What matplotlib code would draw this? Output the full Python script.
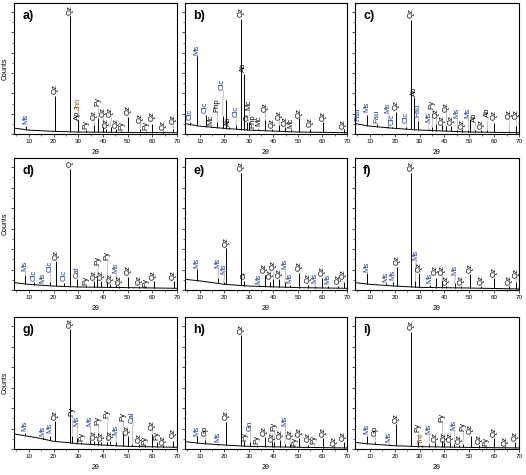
import numpy as np
import matplotlib
matplotlib.use("Agg")
import matplotlib.pyplot as plt
from matplotlib.ticker import MultipleLocator, NullFormatter

plt.rcParams['font.family'] = ['Liberation Sans', 'DejaVu Sans']

# ---------------- data (2theta in degrees, intensity in % of full scale) ----------------
a_pos = [8.8, 20.8, 26.6, 29.9, 29.9, 33.3, 36.4, 38.1, 40.0, 41.1, 43.1, 45.2, 47.5, 50.1, 55.0, 57.3, 60.0, 64.3, 68.4]
a_height = [6, 29, 90, 10.5, 10.5, 3, 7, 12, 5.5, 4, 5, 3.5, 2.5, 13, 4, 2.5, 8, 2.5, 4]
a_label = ['Ms', 'Qz', 'Qz', 'Ap', 'Jhn', 'Py', 'Qz', 'Py', 'Qz', 'Qz', 'Qz', 'Qz', 'Py', 'Qz', 'Qz', 'Py', 'Qz', 'Qz', 'Qz']
a_bg_x = [4, 10, 20, 30, 50, 70]
a_bg_y = [4.5, 3.0, 2.0, 1.5, 1.2, 1.0]

b_pos = [6.2, 8.8, 12.4, 14.4, 17.1, 19.3, 20.8, 21.8, 24.9, 26.7, 27.9, 29.2, 30.0, 31.5, 33.9, 36.6, 39.6, 42.3, 44.7, 47.1, 50.3, 55.1, 60.2, 68.6]
b_height = [9, 59.5, 14.5, 6, 9, 14, 26, 5, 7, 87.5, 46, 9, 9, 4, 4, 10.5, 4, 7, 5, 4, 12, 4, 9.5, 3.5]
b_label = ['Clc', 'Ms', 'Clc', 'Mc', 'Php', 'Clc', '', 'Ab', 'Clc', 'Qz', 'Ab', 'Or', 'Mc', 'Php', 'Mc', 'Qz', 'Qz', 'Qz', 'Qz', 'Mc', 'Qz', 'Qz', 'Qz', 'Qz']
b_bg_x = [4, 5, 10, 20, 30, 50, 70]
b_bg_y = [8.0, 7.6, 6.0, 4.3, 3.0, 1.5, 1.0]

c_pos = [5.3, 8.9, 12.7, 17.4, 18.8, 20.6, 24.7, 26.6, 27.8, 29.3, 33.6, 35.0, 36.6, 39.0, 40.6, 42.7, 45.1, 47.0, 49.5, 50.1, 52.2, 54.9, 57.3, 60.0, 66.1, 68.8]
c_height = [8, 14.5, 8, 6, 5, 17, 5, 87, 28, 10, 4, 5, 8, 6.5, 6, 6, 3, 4, 3, 11, 3, 3, 3, 8.5, 2.5, 6]
c_label = ['Fau', 'Ms', 'Fau', 'Ms', 'Clc', 'Qz', 'Clc', 'Qz', 'Ab', 'Fau', 'Ms', 'Py', 'Qz', 'Qz', 'Qz', 'Qz', 'Ms', 'Qz', 'Ms', '', 'Ab', 'Qz', 'Ab', 'Qz', 'Qz', 'Qz']
c_bg_x = [4, 5, 10, 20, 30, 50, 70]
c_bg_y = [8.0, 7.6, 6.0, 4.3, 3.0, 1.5, 1.0]

d_pos = [8.6, 12.0, 15.8, 18.6, 20.9, 24.2, 26.6, 29.5, 33.3, 36.5, 37.8, 39.4, 41.8, 42.8, 45.3, 46.6, 50.3, 54.6, 57.2, 60.5, 68.6]
d_height = [11.4, 6, 4, 6, 22, 5, 92, 8, 3, 7, 8, 7, 6, 4.5, 4, 3, 10, 3, 2, 7, 7]
d_label = ['Ms', 'Clc', 'Ms', 'Clc', 'Qz', 'Clc', 'Q', 'Cal', 'Py', 'Qz', 'Py', 'Qz', 'Py', 'Qz', 'Ms', 'Qz', 'Qz', 'Qz', 'Py', 'Qz', 'Qz']
d_bg_x = [4, 10, 20, 30, 50, 70]
d_bg_y = [5.6, 4.3, 3.0, 2.3, 1.8, 1.3]

e_pos = [8.8, 17.5, 19.8, 20.8, 26.8, 28.2, 34.0, 36.4, 38.6, 40.0, 42.3, 44.7, 46.7, 50.4, 54.1, 56.8, 59.9, 62.2, 66.2, 68.6]
e_height = [15.7, 9.4, 6, 31.5, 89, 7, 4, 11.4, 6, 8, 8, 6, 4, 13.2, 4, 3, 9, 3, 3, 6]
e_label = ['Ms', 'Ms', 'Ms', 'Qz', 'Qz', 'Or', 'Ms', 'Qz', 'Qz', 'Qz', 'Qz', 'Ms', 'Ms', 'Qz', 'Qz', 'Ms', 'Qz', 'Ms', 'Qz', 'Qz']
e_bg_x = [4, 10, 20, 30, 50, 70]
e_bg_y = [8.1, 6.9, 4.3, 3.0, 1.8, 1.3]

f_pos = [8.8, 16.5, 19.2, 20.8, 26.6, 28.3, 29.7, 34.0, 36.4, 39.1, 40.7, 44.1, 46.8, 50.4, 54.9, 60.0, 66.1, 68.8]
f_height = [13, 5, 6, 17.8, 89, 7, 13, 4, 9, 7, 3, 5, 3, 12, 3, 9, 3, 6]
f_label = ['Ms', 'Ms', 'Ms', 'Qz', 'Qz', 'Ms', 'Qz', 'Ms', 'Qz', 'Qz', 'Qz', 'Ms', 'Qz', 'Qz', 'Qz', 'Qz', 'Qz', 'Qz']
f_bg_x = [4, 10, 20, 30, 50, 70]
f_bg_y = [5.6, 4.3, 3.0, 2.0, 1.5, 0.8]

g_pos = [8.6, 15.7, 18.4, 20.5, 26.6, 27.5, 29.5, 31.3, 34.7, 36.5, 38.1, 39.4, 41.8, 42.8, 45.3, 48.0, 50.0, 51.9, 54.8, 57.1, 59.8, 61.8, 64.5, 68.4]
g_height = [12.5, 9, 10, 21, 91, 10, 8, 5, 7, 6, 6, 5.5, 5, 6, 5, 11, 9.6, 4, 4, 3, 11, 5, 3, 6]
g_label = ['Ms', 'Ms', 'Ms', 'Qz', 'Qz', 'Py', 'Ms', 'Py', 'Ms', 'Qz', 'Py', 'Qz', 'Py', 'Qz', 'Ms', 'Py', 'Qz', 'Cal', 'Qz', 'Py', 'Qz', 'Py', 'Qz', 'Qz']
g_bg_x = [4, 10, 15, 20, 25, 30, 50, 70]
g_bg_y = [11.4, 9.6, 7.9, 5.8, 5.0, 4.0, 2.0, 1.3]

h_pos = [8.8, 12.2, 17.5, 20.8, 26.8, 28.2, 30.6, 33.3, 36.4, 39.3, 40.3, 42.7, 44.7, 46.7, 48.6, 50.4, 54.1, 56.5, 60.2, 64.6, 68.6]
h_height = [9.5, 7, 4, 20.3, 86, 6, 5, 3, 9, 5, 5, 7, 4, 4, 2, 8.5, 3, 2.5, 8.5, 2, 5]
h_label = ['Ms', 'Gp', 'Ms', 'Qz', 'Qz', 'Py', 'Gn', 'Py', 'Qz', 'Qz', 'Py', 'Qz', 'Ms', 'Qz', 'Py', 'Qz', 'Qz', 'Py', 'Qz', 'Qz', 'Qz']
h_bg_x = [4, 10, 20, 30, 50, 70]
h_bg_y = [5.6, 4.3, 3.0, 2.0, 1.3, 0.8]

i_pos = [8.7, 12.0, 17.8, 20.7, 26.5, 29.5, 30.8, 33.9, 36.2, 38.9, 39.9, 42.2, 43.9, 46.0, 47.4, 50.5, 54.0, 56.7, 60.1, 64.4, 68.4]
i_height = [9.6, 5, 3.5, 19, 89, 6, 3, 4, 5, 6, 5, 5, 4, 3, 4, 10, 3, 2, 8, 2, 5]
i_label = ['Ms', 'Gp', 'Ms', 'Qz', 'Qz', 'Py', 'Tnt', 'Ms', 'Qz', 'Py', 'Qz', 'Qz', 'Ms', 'Qz', 'Py', 'Qz', 'Qz', 'Py', 'Qz', 'Qz', 'Qz']
i_bg_x = [4, 10, 20, 30, 50, 70]
i_bg_y = [5.0, 3.8, 2.5, 1.8, 1.2, 0.8]

x_ticks = [10, 20, 30, 40, 50, 60, 70]
panel_letters = ['a)', 'b)', 'c)', 'd)', 'e)', 'f)', 'g)', 'h)', 'i)']

# ---------------- layout (label heights for annotations) ----------------
a_label_y = [7.6, 30.5, 91, 11, 18.5, 3.5, 10.7, 21.4, 12.7, 4.5, 12.7, 4.3, 3, 14.5, 8.1, 3, 10.2, 3, 7.6]
b_label_y = [10.7, 60.5, 15.8, 7, 17, 33.6, 0, 5.8, 13.2, 89, 47.5, 10.2, 18.3, 4.5, 6, 17, 4.5, 10.7, 6.1, 4.5, 12.5, 5.6, 10, 3.8]
c_label_y = [10.2, 17, 8.5, 16, 6.5, 18.3, 8.1, 88.5, 29, 12.7, 9.4, 19, 12, 6.9, 17, 6.9, 12, 4, 12, 0, 9.4, 3.5, 13.2, 10.7, 11.2, 11.2]
d_label_y = [14.5, 6.5, 5, 14, 22.8, 6.8, 93, 8.9, 3.8, 7.6, 19, 7.6, 22.8, 5, 12.7, 3.8, 11.4, 3.8, 2.5, 7.6, 7.6]
e_label_y = [17, 17, 12, 32.2, 90, 8.1, 4.3, 13.2, 8.1, 15, 9.4, 15.7, 5.6, 14.5, 5.6, 5.6, 10.7, 4.3, 4.3, 8.1]
f_label_y = [14, 6.3, 7.6, 19, 90, 22.8, 14, 5, 11.4, 11.4, 3.8, 11.4, 3.8, 12.7, 3.8, 10, 3.8, 8.9]
g_label_y = [13.5, 10, 12.2, 22.3, 92, 24.9, 17.3, 5.8, 17.3, 7.1, 18.5, 6.3, 23.6, 7.1, 10.9, 21, 10.9, 19.8, 4.6, 3.3, 14.7, 7.1, 3.3, 8.4]
h_label_y = [10.2, 10.2, 5, 21.6, 87, 6.3, 14, 3.8, 10.2, 5.5, 14, 7.6, 17.8, 7.6, 2.5, 8.9, 5, 3.8, 8.9, 2.5, 6.3]
i_label_y = [11.4, 10.2, 5, 19.5, 90, 12.7, 3.8, 11.4, 5.5, 20.3, 5.5, 5.5, 14.5, 3.8, 14, 11.4, 3.8, 2.5, 8.9, 2.5, 6.3]

label_colors = {'Ms': '#1c3a8a', 'Clc': '#1c3a8a', 'Fau': '#1c3a8a', 'Cal': '#1c2a5a',
                'Gn': '#1c2a5a', 'Jhn': '#8a5a10', 'Tnt': '#8a5a10'}

panels = [
    (a_pos, a_height, a_label, a_label_y, a_bg_x, a_bg_y),
    (b_pos, b_height, b_label, b_label_y, b_bg_x, b_bg_y),
    (c_pos, c_height, c_label, c_label_y, c_bg_x, c_bg_y),
    (d_pos, d_height, d_label, d_label_y, d_bg_x, d_bg_y),
    (e_pos, e_height, e_label, e_label_y, e_bg_x, e_bg_y),
    (f_pos, f_height, f_label, f_label_y, f_bg_x, f_bg_y),
    (g_pos, g_height, g_label, g_label_y, g_bg_x, g_bg_y),
    (h_pos, h_height, h_label, h_label_y, h_bg_x, h_bg_y),
    (i_pos, i_height, i_label, i_label_y, i_bg_x, i_bg_y),
]

W, H = 526, 475
fig = plt.figure(figsize=(W / 100, H / 100), dpi=100)
fig.patch.set_facecolor('white')

col_left = [14, 185, 355]
col_width = [163, 162, 164]
row_top = [3, 158, 317]
row_height = [131, 132, 132]

for k, (pos, height, labels, label_y, bg_x, bg_y) in enumerate(panels):
    r, c = divmod(k, 3)
    rect = [col_left[c] / W, 1 - (row_top[r] + row_height[r]) / H,
            col_width[c] / W, row_height[r] / H]
    ax = fig.add_axes(rect)
    pos_arr = np.asarray(pos, dtype=float)
    base = np.interp(pos_arr, bg_x, bg_y)
    ax.plot(bg_x, bg_y, color='black', lw=0.7)
    ax.vlines(pos_arr, base, height, color='black', lw=0.7)
    for p, h, lab, ly in zip(pos, height, labels, label_y):
        if not lab:
            continue
        if ly - h > 2.5:
            ax.plot([p, p + 0.3], [h, ly - 0.3], color='0.45', lw=0.3)
        ax.text(p, ly, lab, rotation=90, ha='center', va='bottom',
                fontsize=5.6, color=label_colors.get(lab, 'black'))
    ax.text(0.05, 0.95, panel_letters[k], transform=ax.transAxes, ha='left', va='top',
            fontsize=9, fontweight='bold')
    ax.set_xlim(4, 70)
    ax.set_ylim(0, 100)
    ax.set_xticks(x_ticks)
    ax.set_xticklabels([str(t) for t in x_ticks])
    ax.xaxis.set_minor_locator(MultipleLocator(5))
    ax.yaxis.set_major_locator(MultipleLocator(15.5))
    ax.yaxis.set_minor_locator(MultipleLocator(7.75))
    ax.yaxis.set_major_formatter(NullFormatter())
    ax.tick_params(axis='x', which='major', labelsize=4.5, length=2, width=0.5, pad=1.5, direction='out')
    ax.tick_params(axis='x', which='minor', length=1.2, width=0.4, direction='out')
    ax.tick_params(axis='y', which='major', length=2, width=0.5, direction='out')
    ax.tick_params(axis='y', which='minor', length=1.2, width=0.4, direction='out')
    for s in ax.spines.values():
        s.set_linewidth(0.8)
    ax.set_xlabel('2θ', fontsize=5, labelpad=4)
    if c == 0:
        ax.set_ylabel('Counts', fontsize=5)
        ax.yaxis.set_label_coords(-0.035, 0.5)

fig.savefig('out.png', dpi=100, facecolor='white')
